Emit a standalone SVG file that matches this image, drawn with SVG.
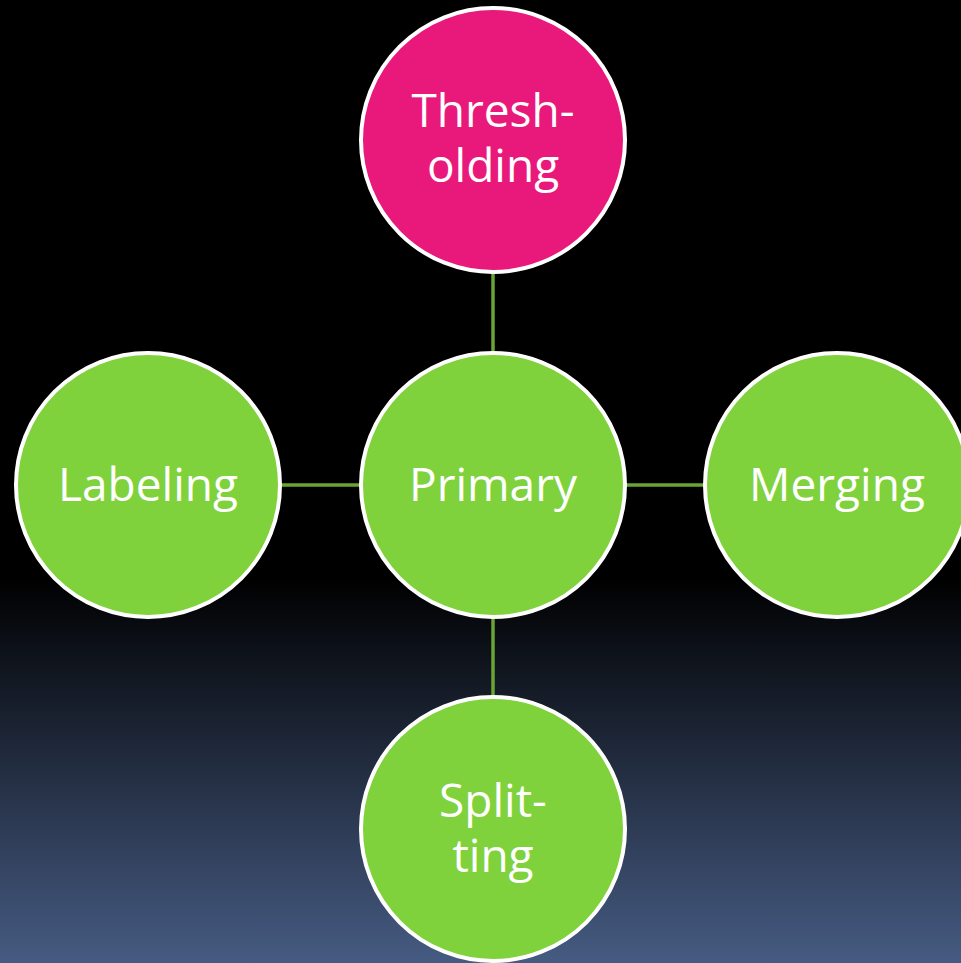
<svg xmlns="http://www.w3.org/2000/svg" width="961" height="963" viewBox="0 0 961 963">
<defs>
<linearGradient id="bg" x1="0" y1="0" x2="0" y2="963" gradientUnits="userSpaceOnUse">
<stop offset="0" stop-color="#000000"/>
<stop offset="0.6" stop-color="#000000"/>
<stop offset="1" stop-color="#465b82"/>
</linearGradient>
<style>
.n{stroke:#ffffff;stroke-width:4}
.g{fill:#80d23c}
.p{fill:#e9197c}
.t{font-family:"Open Sans","Noto Sans",sans-serif;font-size:46px;fill:#ffffff;text-anchor:middle}
.c{stroke:#6aa534;stroke-width:3.5;fill:none}
</style>
</defs>
<rect width="961" height="963" fill="url(#bg)"/>
<g id="connectors">
<line class="c" x1="493" y1="273" x2="493" y2="353"/>
<line class="c" x1="281" y1="485" x2="361" y2="485"/>
<line class="c" x1="625" y1="485" x2="705" y2="485"/>
<line class="c" x1="493" y1="617" x2="493" y2="697"/>
</g>
<g id="thresholding">
<circle class="n p" cx="493" cy="140" r="132"/>
<text class="t" x="493" y="127">Thresh-</text>
<text class="t" x="493" y="182">olding</text>
</g>
<g id="primary">
<circle class="n g" cx="493" cy="485" r="132"/>
<text class="t" x="493" y="501">Primary</text>
</g>
<g id="labeling">
<circle class="n g" cx="148" cy="485" r="132"/>
<text class="t" x="148" y="501">Labeling</text>
</g>
<g id="merging">
<circle class="n g" cx="837" cy="485" r="132"/>
<text class="t" x="837" y="501">Merging</text>
</g>
<g id="splitting">
<circle class="n g" cx="493" cy="829" r="132"/>
<text class="t" x="493" y="817">Split-</text>
<text class="t" x="493" y="872">ting</text>
</g>
</svg>
